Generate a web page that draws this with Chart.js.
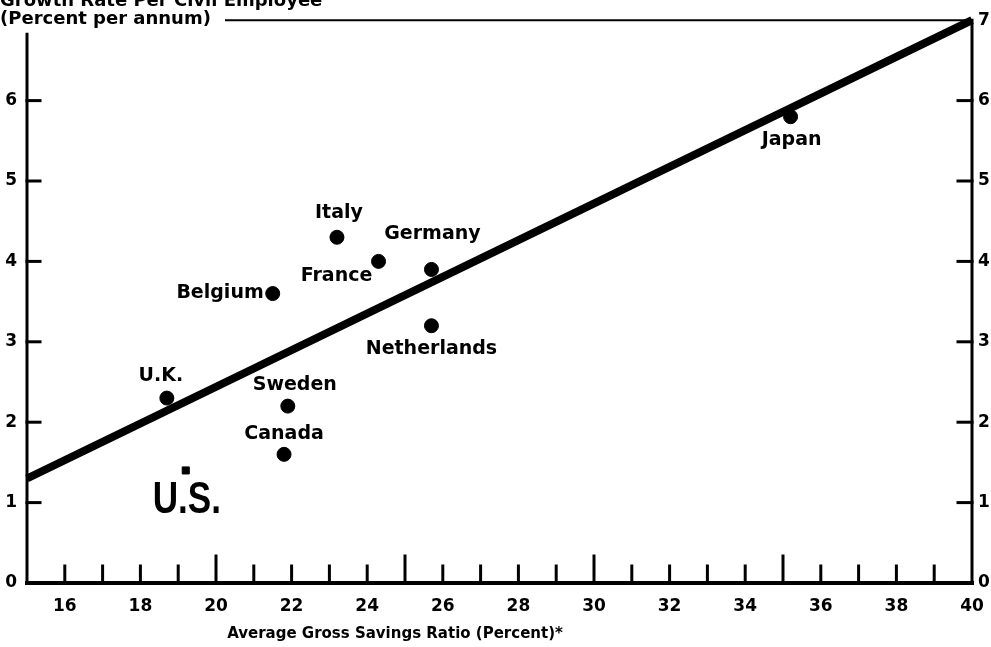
<!DOCTYPE html>
<html>
<head>
<meta charset="utf-8">
<script src="https://cdn.jsdelivr.net/npm/chart.js@4/dist/chart.umd.min.js"></script>
<style>
  html, body { margin: 0; padding: 0; background: #fff; }
  #wrap { width: 991px; height: 647px; position: relative; }
</style>
</head>
<body>
<div id="wrap"><canvas id="chart"></canvas></div>
<script>
// values
const countries = ['Japan', 'Italy', 'France', 'Germany', 'Belgium', 'Netherlands', 'U.K.', 'Sweden', 'Canada', 'U.S.'];
const savingsRatio = [35.2, 23.2, 24.3, 25.7, 21.5, 25.7, 18.7, 21.9, 21.8, 19.2];
const growthRate = [5.8, 4.3, 4.0, 3.9, 3.6, 3.2, 2.3, 2.2, 1.6, 1.4];

const trendX = [15, 40];
const trendY = [1.3, 7.0];

const xTickLabels = [16, 18, 20, 22, 24, 26, 28, 30, 32, 34, 36, 38, 40];
const yLeftLabels = [0, 1, 2, 3, 4, 5, 6];
const yRightLabels = [0, 1, 2, 3, 4, 5, 6, 7];

const yTitle1 = 'Growth Rate Per Civil Employee';
const yTitle2 = '(Percent per annum)';
const xTitle = 'Average Gross Savings Ratio (Percent)*';

// where each country name sits relative to its dot
const labelPlace = {
  'Japan':       { dx: 1,   dy: 23,  align: 'center' },
  'Italy':       { dx: 2,   dy: -24, align: 'center' },
  'France':      { dx: -42, dy: 15,  align: 'center' },
  'Germany':     { dx: 1,   dy: -35, align: 'center' },
  'Belgium':     { dx: -9,  dy: 0,   align: 'right' },
  'Netherlands': { dx: 0,   dy: 23,  align: 'center' },
  'U.K.':        { dx: -6,  dy: -22, align: 'center' },
  'Sweden':      { dx: 7,   dy: -21, align: 'center' },
  'Canada':      { dx: 0,   dy: -20, align: 'center' },
  'U.S.':        { dx: 1,   dy: 30,  align: 'center', big: true }
};

const FONT = '"DejaVu Sans", "Liberation Sans", sans-serif';

const frame = {
  id: 'frame',
  afterDraw(chart) {
    const { ctx, chartArea: a, scales } = chart;
    const x = scales.x, y = scales.y;
    ctx.save();
    ctx.strokeStyle = '#000';
    ctx.lineCap = 'square';
    // left axis (starts below the title)
    ctx.lineWidth = 3;
    ctx.beginPath(); ctx.moveTo(a.left, a.top + 14); ctx.lineTo(a.left, a.bottom); ctx.stroke();
    // right axis
    ctx.beginPath(); ctx.moveTo(a.right, a.top); ctx.lineTo(a.right, a.bottom); ctx.stroke();
    // top line after the title
    ctx.lineWidth = 2;
    ctx.beginPath(); ctx.moveTo(226, a.top); ctx.lineTo(a.right, a.top); ctx.stroke();
    // bottom axis
    ctx.lineWidth = 4;
    ctx.beginPath(); ctx.moveTo(a.left, a.bottom); ctx.lineTo(a.right, a.bottom); ctx.stroke();

    // inward ticks on x
    ctx.lineWidth = 3;
    for (let v = 16; v < 40; v++) {
      const px = x.getPixelForValue(v);
      const len = v % 5 === 0 ? 27 : 17;
      ctx.beginPath(); ctx.moveTo(px, a.bottom); ctx.lineTo(px, a.bottom - len); ctx.stroke();
    }
    // inward ticks on y, both sides
    for (let v = 1; v < 7; v++) {
      const py = y.getPixelForValue(v);
      ctx.beginPath(); ctx.moveTo(a.left, py); ctx.lineTo(a.left + 13, py); ctx.stroke();
      ctx.beginPath(); ctx.moveTo(a.right, py); ctx.lineTo(a.right - 14, py); ctx.stroke();
    }

    // titles
    ctx.fillStyle = '#000';
    ctx.textAlign = 'left';
    ctx.textBaseline = 'alphabetic';
    ctx.font = 'bold 18px ' + FONT;
    ctx.fillText(yTitle1, 0, 6);
    ctx.textBaseline = 'middle';
    ctx.font = 'bold 18px ' + FONT;
    ctx.fillText(yTitle2, 0, 19);
    ctx.textAlign = 'center';
    ctx.font = 'bold 15px ' + FONT;
    ctx.fillText(xTitle, 395, 634);
    ctx.restore();
  }
};

const countryLabels = {
  id: 'countryLabels',
  afterDatasetsDraw(chart) {
    const { ctx } = chart;
    const meta = chart.getDatasetMeta(0);
    ctx.save();
    ctx.fillStyle = '#000';
    ctx.textBaseline = 'middle';
    meta.data.forEach((pt, i) => {
      const name = countries[i];
      const p = labelPlace[name];
      ctx.textAlign = p.align;
      if (p.big) {
        // the U.S. label is a tall condensed type
        ctx.save();
        ctx.translate(pt.x + p.dx, pt.y + p.dy);
        ctx.scale(0.78, 1);
        ctx.font = 'bold 45px "Liberation Sans", ' + FONT;
        ctx.fillText(name, 0, 0);
        ctx.restore();
      } else {
        ctx.font = 'bold 19px ' + FONT;
        ctx.fillText(name, pt.x + p.dx, pt.y + p.dy);
      }
    });
    ctx.restore();
  }
};

const tickFont = { family: FONT, size: 17, weight: 'bold' };

new Chart(document.getElementById('chart'), {
  data: {
    datasets: [
      {
        type: 'scatter',
        data: savingsRatio.map((v, i) => ({ x: v, y: growthRate[i] })),
        backgroundColor: '#000',
        borderColor: '#000',
        pointStyle: countries.map(c => c === 'U.S.' ? 'rect' : 'circle'),
        pointRadius: countries.map(c => c === 'U.S.' ? 5 : 7),
        yAxisID: 'y'
      },
      {
        type: 'line',
        data: trendX.map((v, i) => ({ x: v, y: trendY[i] })),
        borderColor: '#000',
        borderWidth: 8,
        pointRadius: 0,
        clip: false,
        yAxisID: 'y'
      }
    ]
  },
  options: {
    responsive: true,
    maintainAspectRatio: false,
    animation: false,
    layout: { padding: { top: 18, left: 0, right: 0, bottom: 0 } },
    plugins: { legend: { display: false }, tooltip: { enabled: false } },
    scales: {
      x: {
        type: 'linear', position: 'bottom', min: 15, max: 40,
        grid: { display: false, drawTicks: false },
        border: { display: false },
        afterFit: s => { s.height = 64; s.paddingLeft = 0; s.paddingRight = 0; },
        ticks: {
          stepSize: 1, autoSkip: false, maxRotation: 0, padding: 13,
          color: '#000', font: tickFont,
          callback: v => xTickLabels.includes(v) ? String(v) : ''
        }
      },
      y: {
        type: 'linear', position: 'left', min: 0, max: 7,
        grid: { display: false, drawTicks: false },
        border: { display: false },
        afterFit: s => { s.width = 27; },
        ticks: {
          stepSize: 1, padding: 10, color: '#000', font: tickFont,
          callback: v => yLeftLabels.includes(v) ? String(v) : ''
        }
      },
      y2: {
        type: 'linear', position: 'right', min: 0, max: 7,
        grid: { display: false, drawTicks: false },
        border: { display: false },
        afterFit: s => { s.width = 19; },
        ticks: {
          stepSize: 1, padding: 6, color: '#000', font: tickFont,
          callback: v => yRightLabels.includes(v) ? String(v) : ''
        }
      }
    }
  },
  plugins: [frame, countryLabels]
});
</script>
</body>
</html>
